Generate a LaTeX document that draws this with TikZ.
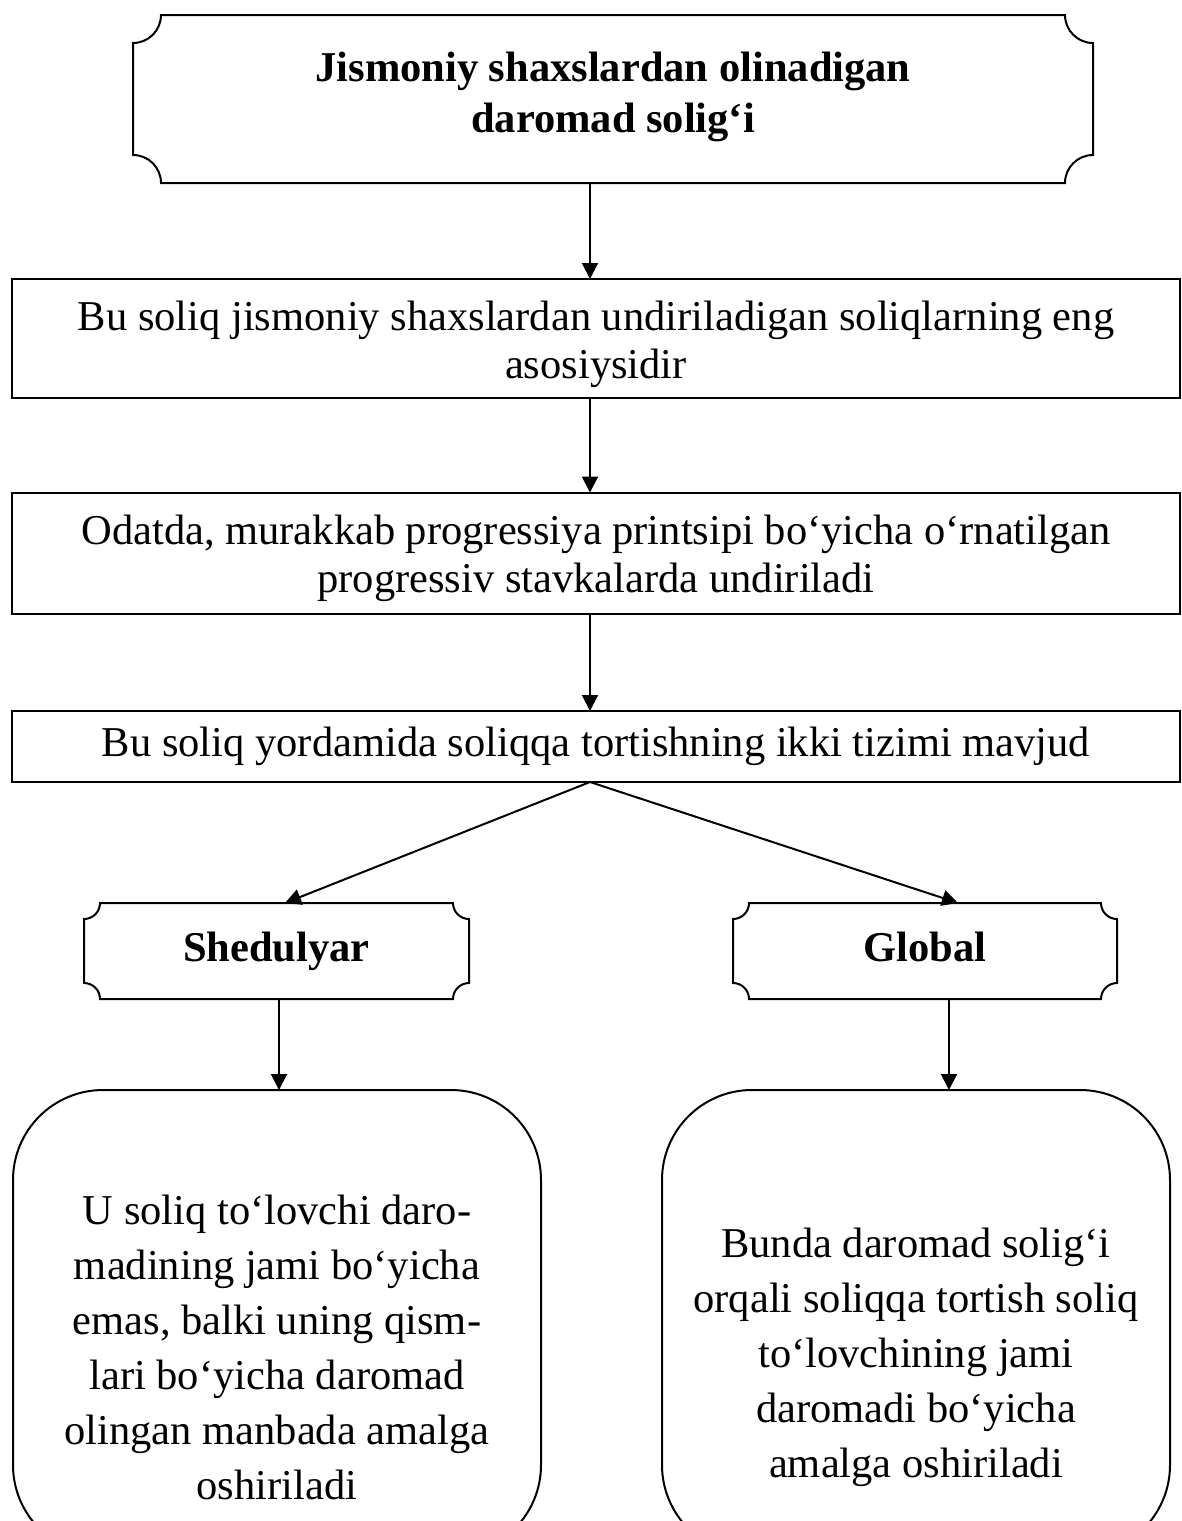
\documentclass[tikz,border=0pt]{standalone}
\usepackage{fontspec}
\setmainfont{Liberation Serif}
\usetikzlibrary{arrows.meta,calc}
\newcommand\concavebox[2]{%
 \draw[line width=2pt] ($(#1.north west)+(#2,0)$) -- ($(#1.north east)+(-#2,0)$)
   arc[start angle=180,end angle=270,radius=#2] -- ($(#1.south east)+(0,#2)$)
   arc[start angle=90,end angle=180,radius=#2] -- ($(#1.south west)+(#2,0)$)
   arc[start angle=0,end angle=90,radius=#2] -- ($(#1.north west)+(0,-#2)$)
   arc[start angle=270,end angle=360,radius=#2] -- cycle;}
\begin{document}
\begin{tikzpicture}[x=1pt,y=1pt,
  every node/.style={font=\fontsize{42.5}{48}\selectfont, align=center, inner sep=0pt, outer sep=0pt},
  tagbox/.style={rectangle, draw=none},
  rbox/.style={rectangle, draw, line width=2pt},
  roundbox/.style={rectangle, draw, line width=2pt, rounded corners=90pt},
  bodytext/.style={font=\fontsize{42.5}{55}\selectfont},
  arr/.style={-{Triangle[length=16pt,width=16pt]}, line width=2pt}]
\useasboundingbox (0,0) rectangle (1181,-1521);
\clip (0,0) rectangle (1181,-1521);

\node[tagbox, minimum width=960pt, minimum height=168pt] (top) at (613,-99) {};
\node[font=\fontsize{42.5}{51}\selectfont\bfseries] (tt) at (613,-97)
  {Jismoniy shaxslardan olinadigan\\daromad solig‘i};
\concavebox{top}{28}

\node[rbox, minimum width=1168pt, minimum height=119pt] (b2) at (596,-338.5) {};
\node (t2) at (596,-344)
  {Bu soliq jismoniy shaxslardan undiriladigan soliqlarning eng\\asosiysidir};
\node[rbox, minimum width=1168pt, minimum height=121pt] (b3) at (596,-553) {};
\node (t3) at (596,-558)
  {Odatda, murakkab progressiya printsipi bo‘yicha o‘rnatilgan\\progressiv stavkalarda undiriladi};
\node[rbox, minimum width=1168pt, minimum height=71pt, text height=30pt, text depth=10pt] (b4) at (596,-746.5)
  {Bu soliq yordamida soliqqa tortishning ikki tizimi mavjud};

\node[tagbox, minimum width=385pt, minimum height=96pt, text height=30pt, text depth=9pt] (sh) at (276.5,-951) {\bfseries Shedulyar};
\concavebox{sh}{16}
\node[tagbox, minimum width=384pt, minimum height=96pt, text height=30pt, text depth=9pt] (gb) at (925,-951) {\bfseries Global};
\concavebox{gb}{16}

\node[roundbox, minimum width=528pt, minimum height=465pt] (lb) at (277,-1322.5) {};
\node[roundbox, minimum width=508pt, minimum height=465pt] (rb) at (916,-1322.5) {};
\node[bodytext] (lt) at (277,-1347)
  {U soliq to‘lovchi daro-\\madining jami bo‘yicha\\emas, balki uning qism-\\lari bo‘yicha daromad\\olingan manbada amalga\\oshiriladi};
\node[bodytext] (rt) at (916,-1357)
  {Bunda daromad solig‘i\\orqali soliqqa tortish soliq\\to‘lovchining jami\\daromadi bo‘yicha\\amalga oshiriladi};

\coordinate (ax) at (590,0);
\coordinate (sl) at (285,0);
\coordinate (gl) at (958,0);
\coordinate (sd) at (279,0);
\coordinate (gd) at (949,0);
\draw[arr] (top.south -| ax) -- (b2.north -| ax);
\draw[arr] (b2.south -| ax) -- (b3.north -| ax);
\draw[arr] (b3.south -| ax) -- (b4.north -| ax);
\draw[arr] (b4.south -| ax) -- (sh.north -| sl);
\draw[arr] (b4.south -| ax) -- (gb.north -| gl);
\draw[arr] (sh.south -| sd) -- (lb.north -| sd);
\draw[arr] (gb.south -| gd) -- (rb.north -| gd);
\end{tikzpicture}
\end{document}
